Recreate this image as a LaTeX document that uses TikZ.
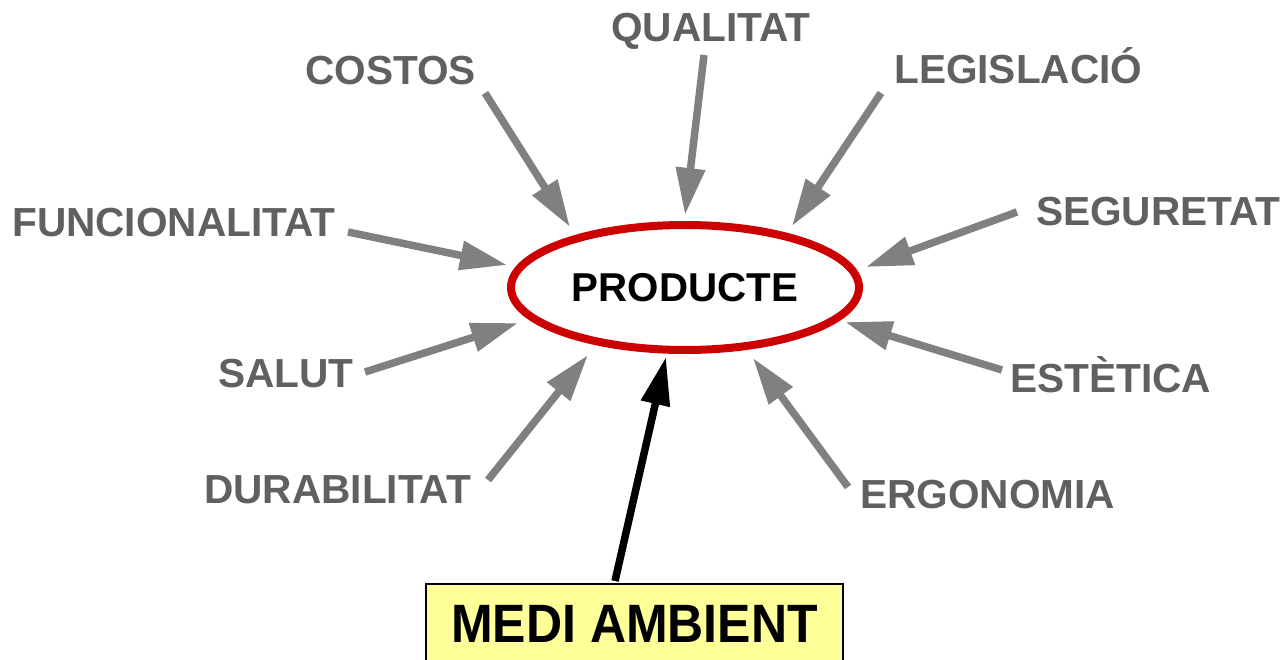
\documentclass[tikz,border=0pt]{standalone}
\usepackage{fontspec}
\setmainfont{Liberation Sans}
\usetikzlibrary{shapes.geometric,arrows.meta}
\definecolor{labelgray}{HTML}{606060}
\definecolor{arrowgray}{HTML}{808080}
\definecolor{prodred}{HTML}{CC0000}
\definecolor{boxyellow}{HTML}{FFFF99}
\begin{document}
\begin{tikzpicture}[x=1pt,y=-1pt,
  lbl/.style={anchor=base west,inner sep=0pt,text=labelgray,font=\fontsize{40.6}{48}\selectfont\bfseries},
  feed/.style={draw=arrowgray,line width=7.5pt,-{Triangle[length=47pt,width=28pt]}},
  mainarrow/.style={draw=black,line width=7.5pt,-{Triangle[length=48pt,width=28pt]}}]
\useasboundingbox (0,0) rectangle (1283,660);
% central node
\node[ellipse,draw=prodred,line width=8pt,minimum width=348pt,minimum height=125pt,inner sep=0pt,
      font=\fontsize{40.3}{48}\selectfont\bfseries] (prod) at (685,287.5) {PRODUCTE};
% labels
\node[lbl] (qual) at (611,42) {QUALITAT};
\node[lbl] (cost) at (305,85) {COSTOS};
\node[lbl] (legi) at (894,84) {LEGISLACIÓ};
\node[lbl] (func) at (12,237) {FUNCIONALITAT};
\node[lbl] (segu) at (1036,226) {SEGURETAT};
\node[lbl] (salu) at (218,388) {SALUT};
\node[lbl] (este) at (1010,392) {ESTÈTICA};
\node[lbl] (dura) at (204,503) {DURABILITAT};
\node[lbl] (ergo) at (860,508) {ERGONOMIA};
% medi ambient box
\node[draw=black,line width=2pt,fill=boxyellow,anchor=north,minimum width=417pt,minimum height=80pt,inner sep=0pt,
      font=\fontsize{50}{60}\selectfont\bfseries] (medi) at (634.5,583) {\scalebox{1}[1.08]{MEDI AMBIENT}\hspace{14pt}};
% arrow coordinates
\coordinate (sCost) at (485,93);   \coordinate (tCost) at (570,227);
\coordinate (sQual) at (704,55);   \coordinate (tQual) at (685,215);
\coordinate (sLegi) at (881,93);   \coordinate (tLegi) at (792,226);
\coordinate (sFunc) at (348,232);  \coordinate (tFunc) at (507,265);
\coordinate (sSegu) at (1017,212); \coordinate (tSegu) at (866,267);
\coordinate (sSalu) at (365,372);  \coordinate (tSalu) at (518,323);
\coordinate (sEste) at (1002,370); \coordinate (tEste) at (845,322);
\coordinate (sDura) at (488,480);  \coordinate (tDura) at (588,355);
\coordinate (sErgo) at (848,487);  \coordinate (tErgo) at (753,358);
\coordinate (sMedi) at (615,581);  \coordinate (tMedi) at (666,357);
% arrows
\draw[feed] (sCost) -- (tCost);
\draw[feed] (sQual) -- (tQual);
\draw[feed] (sLegi) -- (tLegi);
\draw[feed] (sFunc) -- (tFunc);
\draw[feed] (sSegu) -- (tSegu);
\draw[feed] (sSalu) -- (tSalu);
\draw[feed] (sEste) -- (tEste);
\draw[feed] (sDura) -- (tDura);
\draw[feed] (sErgo) -- (tErgo);
\draw[mainarrow] (sMedi) -- (tMedi);
\end{tikzpicture}
\end{document}
